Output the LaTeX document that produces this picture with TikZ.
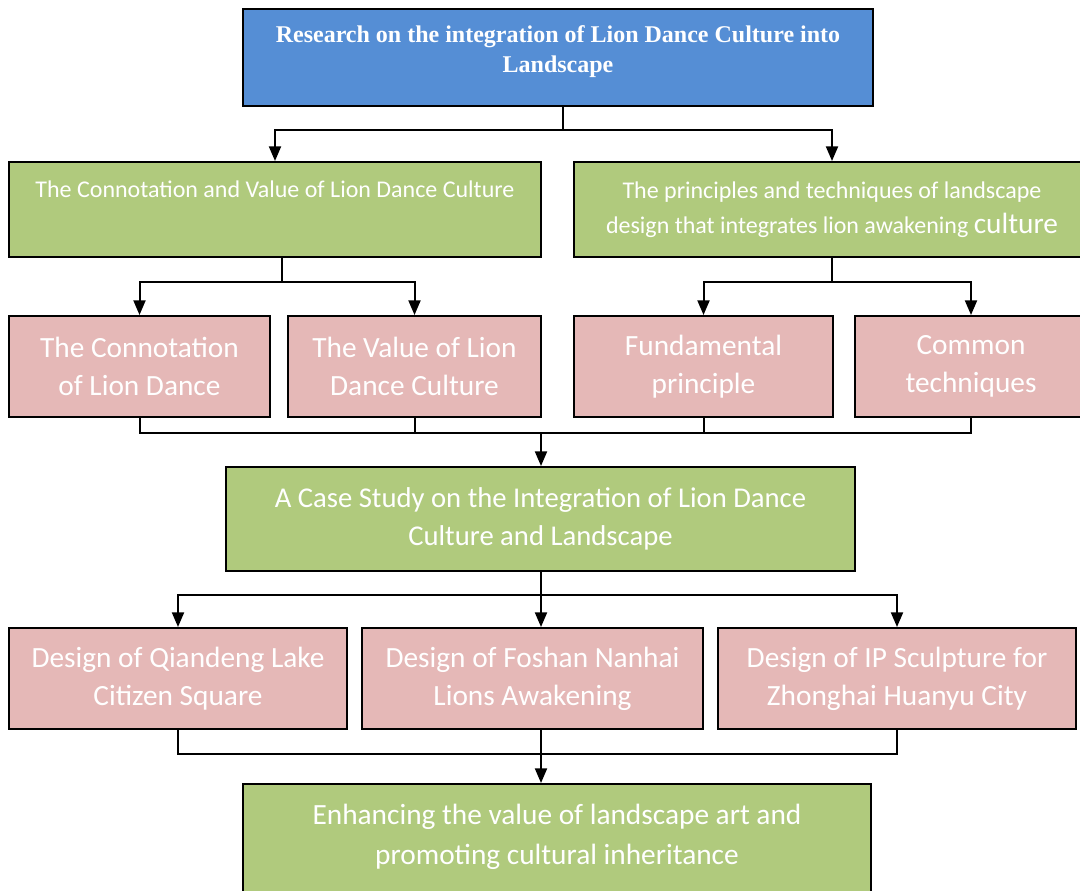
\documentclass[tikz,border=0pt]{standalone}
\usepackage{fontspec}
\setmainfont{Carlito}
\newfontfamily\titlefont{Liberation Serif}
\usepackage{tikz}
\usetikzlibrary{arrows.meta}

\definecolor{titleblue}{HTML}{558ED5}
\definecolor{boxgreen}{HTML}{B0CA7D}
\definecolor{boxpink}{HTML}{E5B8B7}

\begin{document}
\begin{tikzpicture}[x=0.75pt,y=-0.75pt,
  box/.style={draw=black,line width=1.5pt,text=white,align=center,inner sep=2pt},
  bluebox/.style={box,fill=titleblue,font=\titlefont\bfseries\fontsize{18}{22.5}\selectfont},
  greenbox/.style={box,fill=boxgreen,font=\fontsize{21.5}{28.5}\selectfont},
  pinkbox/.style={box,fill=boxpink,font=\fontsize{22}{28.5}\selectfont},
  link/.style={line width=1.5pt},
  arr/.style={link,-{Triangle[length=11pt,width=9pt]}}]
  \useasboundingbox (0,0) rectangle (1080,890);

  \node[bluebox,minimum width=472.5pt,minimum height=72.75pt] (research) at (558,57.5)
    {Research on the integration of Lion Dance Culture into\\Landscape\\[-10pt]\mbox{}};

  \node[greenbox,minimum width=399pt,minimum height=71.25pt,font=\fontsize{18}{26.25}\selectfont] (connval) at (275,209.5)
    {The Connotation and Value of Lion Dance Culture\\[4pt]\mbox{}};
  \node[greenbox,minimum width=387pt,minimum height=71.25pt,font=\fontsize{18}{26.25}\selectfont] (principles) at (832,209.5)
    {The principles and techniques of landscape\\design that integrates lion awakening {\fontsize{22}{26}\selectfont culture}};

  \node[pinkbox,minimum width=195.75pt,minimum height=75.75pt] (connot) at (139.5,366.5)
    {The Connotation\\of Lion Dance};
  \node[pinkbox,minimum width=189.75pt,minimum height=75.75pt] (value) at (414.5,366.5)
    {The Value of Lion\\Dance Culture};
  \node[pinkbox,minimum width=194.25pt,minimum height=75.75pt] (fundam) at (703.5,366.5)
    {Fundamental\\principle};
  \node[pinkbox,minimum width=174pt,minimum height=75.75pt] (common) at (971,366.5)
    {Common\\techniques};

  \node[greenbox,minimum width=471.75pt,minimum height=78pt] (casestudy) at (540.5,519)
    {A Case Study on the Integration of Lion Dance\\Culture and Landscape};

  \node[pinkbox,minimum width=253.5pt,minimum height=75.75pt] (qiandeng) at (178,678.5)
    {Design of Qiandeng Lake\\Citizen Square};
  \node[pinkbox,minimum width=255.75pt,minimum height=75.75pt] (foshan) at (532.5,678.5)
    {Design of Foshan Nanhai\\Lions Awakening};
  \node[pinkbox,minimum width=268.5pt,minimum height=75.75pt] (zhonghai) at (897,678.5)
    {Design of IP Sculpture for\\Zhonghai Huanyu City};

  \node[greenbox,minimum width=471pt,minimum height=84pt,font=\fontsize{22}{30}\selectfont] (enhance) at (557,840)
    {Enhancing the value of landscape art and\\promoting cultural inheritance\\[-22pt]\mbox{}};

  \coordinate (top) at (563,130);
  \draw[link] (research.south -| top) -- (top);
  \draw[arr] (top) -| (connval.north);
  \draw[arr] (top) -| (principles.north);

  \coordinate (leftfork) at (282,282);
  \draw[link] (connval.south -| leftfork) -- (leftfork);
  \draw[arr] (leftfork) -| (connot.north);
  \draw[arr] (leftfork) -| (value.north);

  \coordinate (rightfork) at (832,282);
  \draw[link] (principles.south) -- (rightfork);
  \draw[arr] (rightfork) -| (fundam.north);
  \draw[arr] (rightfork) -| (common.north);

  \coordinate (join) at (541,433);
  \draw[link] (connot.south) |- (join) -| (common.south);
  \draw[link] (value.south) -- (value.south |- join);
  \draw[link] (fundam.south) -- (fundam.south |- join);
  \draw[arr] (join) -- (join |- casestudy.north);

  \coordinate (casefork) at (541,595);
  \draw[link] (casestudy.south -| casefork) -- (casefork);
  \draw[arr] (casefork) -| (qiandeng.north);
  \draw[arr] (casefork) -| (zhonghai.north);
  \draw[arr] (casefork) -- (casefork |- foshan.north);

  \coordinate (lastjoin) at (541,754);
  \draw[link] (qiandeng.south) |- (lastjoin) -| (zhonghai.south);
  \draw[link] (foshan.south -| lastjoin) -- (lastjoin);
  \draw[arr] (lastjoin) -- (lastjoin |- enhance.north);
\end{tikzpicture}
\end{document}
